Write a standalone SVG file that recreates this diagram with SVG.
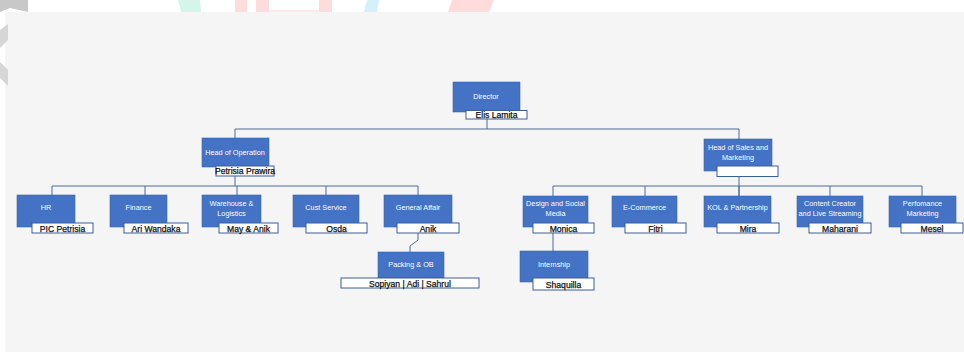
<svg xmlns="http://www.w3.org/2000/svg" width="964" height="352" viewBox="0 0 964 352">
<style>
.box{fill:#4472c4;stroke:#3a66b4;stroke-width:0.6}
.nm{fill:#ffffff;stroke:#3b5f95;stroke-width:1}
.lb{font-family:"Liberation Sans",Arial,sans-serif;font-size:7.3px;fill:#ffffff;text-anchor:middle}
.pn{font-family:"Liberation Sans",Arial,sans-serif;font-size:8.6px;fill:#111111;stroke:#111111;stroke-width:0.25;text-anchor:middle}
.ln{fill:none;stroke:#4a6b9a;stroke-width:1}
</style>
<rect x="0" y="0" width="964" height="352" fill="#ffffff"/>
<g id="watermark">
<polygon points="178,0 200,0 201,12 181,12" fill="#d4f5e9"/>
<rect x="235" y="0" width="12" height="12" fill="#ffdcdc"/>
<rect x="256" y="0" width="13" height="12" fill="#ffdcdc"/>
<rect x="269" y="10" width="50" height="2" fill="#ffe8e8"/>
<rect x="319" y="0" width="13" height="12" fill="#ffdcdc"/>
<polygon points="367,0 379,0 377,12 364,12" fill="#d4f1fb"/>
<polygon points="452,0 494,0 489,12 448,12" fill="#ffdcdc"/>
<polygon points="0,0 28,0 28,12 10,8 0,12" fill="#c8c8c8"/>
</g>
<rect x="5" y="12" width="959" height="340" fill="#f5f5f5"/>
<polygon points="0,30 8,24 8,40 0,48" fill="#d6d6d6"/>
<polygon points="0,62 8,70 8,86 0,78" fill="#d6d6d6"/>
<g id="connectors">
<path class="ln" d="M487 119 V129 M235 129 H739 M235 129 V186 M739 129 V196"/>
<path class="ln" d="M52 186 H418 M52 186 V195 M145 186 V195 M237 186 V195 M326 186 V195 M418 186 V195"/>
<path class="ln" d="M553 186 H922 M553 186 V196 M645 186 V196 M739 186 V196 M830 186 V196 M922 186 V196"/>
<path class="ln" d="M418 233 V240 L410 246 V252"/>
<path class="ln" d="M553 233 V251"/>
</g>
<g id="director">
<rect class="box" x="453" y="82" width="67" height="30"/>
<text class="lb" x="486" y="99">Director</text>
<rect class="nm" x="466" y="110.5" width="61" height="8.5"/>
<text class="pn" x="496.5" y="118">Elis Lamita</text>
</g>
<g id="head-operation">
<rect class="box" x="202" y="138" width="67" height="29"/>
<text class="lb" x="235" y="155">Head of Operation</text>
<rect class="nm" x="216" y="166" width="58" height="10"/>
<text class="pn" x="245" y="174">Petrisia Prawira</text>
</g>
<g id="head-sales">
<rect class="box" x="704" y="139" width="68" height="32"/>
<text class="lb" x="738" y="150">Head of Sales and</text>
<text class="lb" x="738" y="160">Marketing</text>
<rect class="nm" x="717" y="166" width="61" height="10.5"/>
</g>
<g id="hr">
<rect class="box" x="17" y="195" width="58" height="32"/>
<text class="lb" x="46" y="210">HR</text>
<rect class="nm" x="32" y="223" width="61" height="10"/>
<text class="pn" x="62.5" y="231.5">PIC Petrisia</text>
</g>
<g id="finance">
<rect class="box" x="110" y="195" width="57" height="32"/>
<text class="lb" x="138.5" y="210">Finance</text>
<rect class="nm" x="124" y="223" width="64" height="10"/>
<text class="pn" x="156" y="231.5">Ari Wandaka</text>
</g>
<g id="warehouse">
<rect class="box" x="202" y="195" width="59" height="32"/>
<text class="lb" x="231.5" y="206">Warehouse &amp;</text>
<text class="lb" x="231.5" y="216">Logistics</text>
<rect class="nm" x="219" y="223" width="59" height="10"/>
<text class="pn" x="248.5" y="231.5">May &amp; Anik</text>
</g>
<g id="cust-service">
<rect class="box" x="293" y="195" width="66" height="32"/>
<text class="lb" x="326" y="210">Cust Service</text>
<rect class="nm" x="306" y="223" width="61" height="10"/>
<text class="pn" x="336.5" y="231.5">Osda</text>
</g>
<g id="general-affair">
<rect class="box" x="384" y="195" width="68" height="32"/>
<text class="lb" x="418" y="210">General Affair</text>
<rect class="nm" x="397" y="223" width="62" height="10"/>
<text class="pn" x="428" y="231.5">Anik</text>
</g>
<g id="packing">
<rect class="box" x="378" y="252" width="66" height="26"/>
<text class="lb" x="411" y="267">Packing &amp; OB</text>
<rect class="nm" x="341" y="278" width="138" height="10"/>
<text class="pn" x="410" y="286.5">Sopiyan | Adi | Sahrul</text>
</g>
<g id="design">
<rect class="box" x="523" y="196" width="65" height="31"/>
<text class="lb" x="555.5" y="206">Design and Social</text>
<text class="lb" x="555.5" y="216">Media</text>
<rect class="nm" x="533" y="223" width="61" height="10"/>
<text class="pn" x="563.5" y="231.5">Monica</text>
</g>
<g id="ecommerce">
<rect class="box" x="612" y="196" width="65" height="31"/>
<text class="lb" x="644.5" y="210">E-Commerce</text>
<rect class="nm" x="625" y="223" width="61" height="10"/>
<text class="pn" x="655.5" y="231.5">Fitri</text>
</g>
<g id="kol">
<rect class="box" x="704" y="196" width="67" height="31"/>
<text class="lb" x="737.5" y="210">KOL &amp; Partnership</text>
<rect class="nm" x="717" y="223" width="62" height="10"/>
<text class="pn" x="748" y="231.5">Mira</text>
</g>
<g id="content">
<rect class="box" x="797" y="196" width="66" height="31"/>
<text class="lb" x="830" y="206">Content Creator</text>
<text class="lb" x="830" y="216">and Live Streaming</text>
<rect class="nm" x="809" y="223" width="62" height="10"/>
<text class="pn" x="840" y="231.5">Maharani</text>
</g>
<g id="performance">
<rect class="box" x="889" y="196" width="67" height="31"/>
<text class="lb" x="922.5" y="206">Perfomance</text>
<text class="lb" x="922.5" y="216">Marketing</text>
<rect class="nm" x="901" y="223" width="62" height="10"/>
<text class="pn" x="932" y="231.5">Mesel</text>
</g>
<g id="internship">
<rect class="box" x="520" y="251" width="68" height="31"/>
<text class="lb" x="554" y="267">Internship</text>
<rect class="nm" x="533" y="278" width="61" height="12"/>
<text class="pn" x="563.5" y="287.5">Shaquilla</text>
</g>
</svg>
